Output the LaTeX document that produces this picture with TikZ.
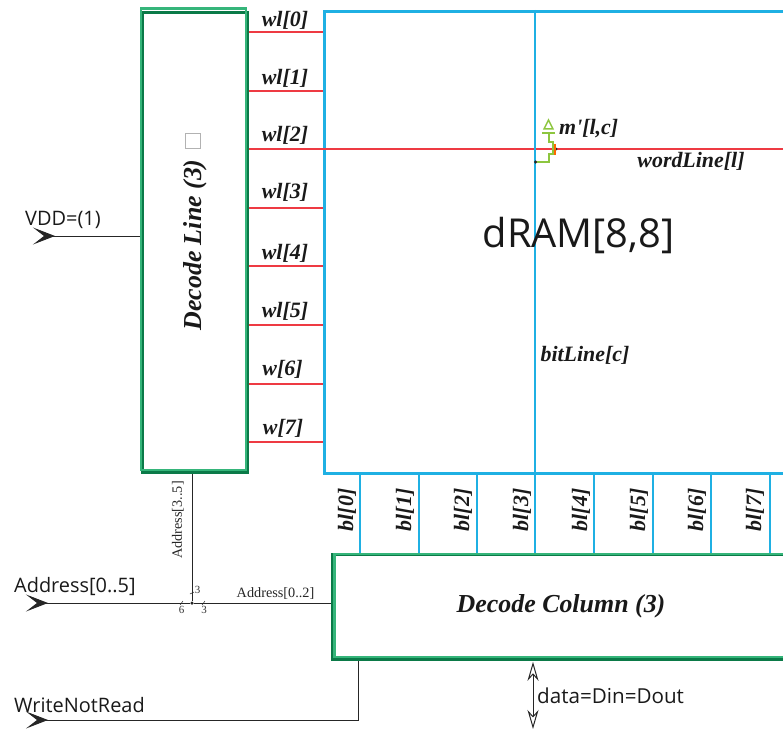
\documentclass[tikz,border=0pt]{standalone}
\usepackage{fontspec}
\setmainfont{Liberation Serif}
\newfontfamily\labelfont{Open Sans}
\usetikzlibrary{arrows.meta, positioning, calc}
\definecolor{dramblue}{HTML}{1FB0E3}
\definecolor{wlred}{HTML}{EE3A43}
\definecolor{greenlight}{HTML}{35B57A}
\definecolor{greendark}{HTML}{0B7A48}
\definecolor{fetgreen}{HTML}{8DC63F}
\begin{document}
\begin{tikzpicture}[
    x=1bp, y=-1bp,
    lightbox/.style={draw=greenlight, line width=2.6bp, anchor=north west},
    darkbox/.style={draw=greendark, line width=2.8bp, anchor=north west},
    dram/.style={draw=dramblue, line width=2.8bp, anchor=north west},
    wlwire/.style={draw=wlred, line width=1.5bp},
    blwire/.style={draw=dramblue, line width=1.6bp},
    wire/.style={draw=black!85, line width=1bp},
    inport/.style={wire, {Stealth[reversed, length=22bp, width=17bp, inset=11bp, fill=black!85]}-},
    fet/.style={draw=fetgreen, line width=1.5bp},
    dot/.style={circle, fill=black!85, inner sep=0pt, minimum size=3.5bp},
    sig/.style={font=\fontsize{22}{22}\selectfont\bfseries\itshape, text=black!90, inner sep=0pt},
    blabel/.style={sig, rotate=90},
    title/.style={font=\fontsize{26}{26}\selectfont\bfseries\itshape, text=black!90, inner sep=0pt},
    port/.style={font=\labelfont\fontsize{20}{20}\selectfont, text=black!90, inner sep=0pt},
    addr/.style={font=\fontsize{14.3}{14.3}\selectfont, text=black!85, inner sep=0pt},
    width/.style={font=\fontsize{11}{11}\selectfont, text=black!80, inner sep=0pt},
]
\useasboundingbox (0,0) rectangle (783,729);

% boxes
\node[dram, minimum width=480bp, minimum height=462bp] (dRAM) at (323,10) {};
\node[darkbox, minimum width=105bp, minimum height=460bp] (lineBack) at (141,11) {};
\node[lightbox, minimum width=105bp, minimum height=461bp] (decodeLine) at (139.5,7.5) {};
\node[darkbox, minimum width=470bp, minimum height=105bp] (columnBack) at (330.5,553) {};
\node[lightbox, minimum width=470bp, minimum height=103bp] (decodeColumn) at (333,552.5) {};

% word lines
\foreach \y/\t/\x/\name [count=\i] in {32/20/285/wl[0], 91/78/285/wl[1], 149/135/285/wl[2], 208/192/285/wl[3], 266/253/285/wl[4], 325/311/285/wl[5], 384/369/282.5/w[6], 442/428/283/w[7]} {
    \draw[wlwire] (lineBack.east |- 0,\y) -- (dRAM.west |- 0,\y);
    \node[sig] (wlabel\i) at (\x,\t) {\name};
}
\draw[wlwire] (dRAM.west |- 0,149) -- (dRAM.east |- 0,149);

% bit lines
\draw[blwire] (dRAM.north -| 535,0) -- (decodeColumn.north -| 535,0);
\foreach \x/\l [count=\i from 0] in {360/347, 419/405, 477/463, 535/522, 594/581, 653/639, 711/697, 770/755} {
    \draw[blwire] (dRAM.south -| \x,0) -- (decodeColumn.north -| \x,0);
    \node[blabel] (blabel\i) at (\l,510) {bl[\i]};
}

% cell
\node[dot, minimum size=3.5bp] (drain) at (535.5,162) {};
\node[dot, minimum size=3bp] (gate) at (556,149) {};
\draw[draw=orange!80!red, line width=1.2bp] (555,144) -- (555,155);
\draw[fet] (drain) -- (549,162) -- (549,154) -- (553,154) -- (553,142) -- (549,142) -- (549,134);
\draw[fet, line width=1.8bp] (542,133) -- (555,133);
\draw[fet] (548.5,120) -- (544,129) -- (553,129) -- cycle;
\node[sig, anchor=west] (mLabel) at (559,128.5) {m\textquotesingle[l,c]};
\node[sig] (wordLine) at (691,161) {wordLine[l]};
\node[sig] (bitLine) at (585,355.5) {bitLine[c]};
\node[font=\labelfont\fontsize{40}{40}\selectfont, text=black!90, inner sep=0pt] (dramLabel) at (578.5,236) {dRAM[8,8]};

% decoders
\node[title, rotate=90] (lineLabel) at (195,245) {Decode Line (3)};
\node[draw=black!30, line width=0.7bp, minimum size=15bp, inner sep=0pt] (mark) at (193,141) {};
\node[title] (columnLabel) at (561,606.5) {Decode Column (3)};

% inputs
\coordinate (vddIn) at (33,236);
\coordinate (addrIn) at (26,603);
\coordinate (wnrIn) at (26,720);
\coordinate (wnrKnee) at (358,720);
\node[dot] (split) at (192,603) {};
\draw[inport] (vddIn) -- (decodeLine.west |- vddIn);
\draw[inport] (addrIn) -- (split);
\draw[wire] (split) -- (columnBack.west |- split);
\draw[wire] (split) -- (split |- lineBack.south);
\draw[inport] (wnrIn) -- (wnrKnee) -- (wnrKnee |- columnBack.south);
\draw[wire, line width=0.5bp] (180,605) -- (183,601);
\draw[wire, line width=0.5bp] (202,605) -- (205,601);
\draw[wire, line width=0.5bp] (190,594) -- (194,592);
\node[width] (w3a) at (197.5,589.5) {3};
\node[width] (w6) at (181.5,609.5) {6};
\node[width] (w3b) at (204,609.5) {3};
\node[addr, rotate=90] (addrHigh) at (178,520) {Address[3..5]};
\node[addr] (addrLow) at (275.5,593.5) {Address[0..2]};
\node[port, anchor=west] (vddLabel) at (25,220) {VDD=(1)};
\node[port, anchor=west] (addrLabel) at (14,587) {Address[0..5]};
\node[port, anchor=west] (wnrLabel) at (14,705) {WriteNotRead};

% data
\coordinate (dataOut) at (533,729);
\draw[wire, {Stealth[open, length=19bp, width=11bp, inset=6bp]}-{Stealth[open, length=19bp, width=11bp, inset=6bp]}] (columnBack.south -| dataOut) ++(0,1) -- (dataOut);
\node[port, anchor=west, font=\labelfont\fontsize{20.7}{20.7}\selectfont] (dataLabel) at (537,696) {data=Din=Dout};
\end{tikzpicture}
\end{document}
